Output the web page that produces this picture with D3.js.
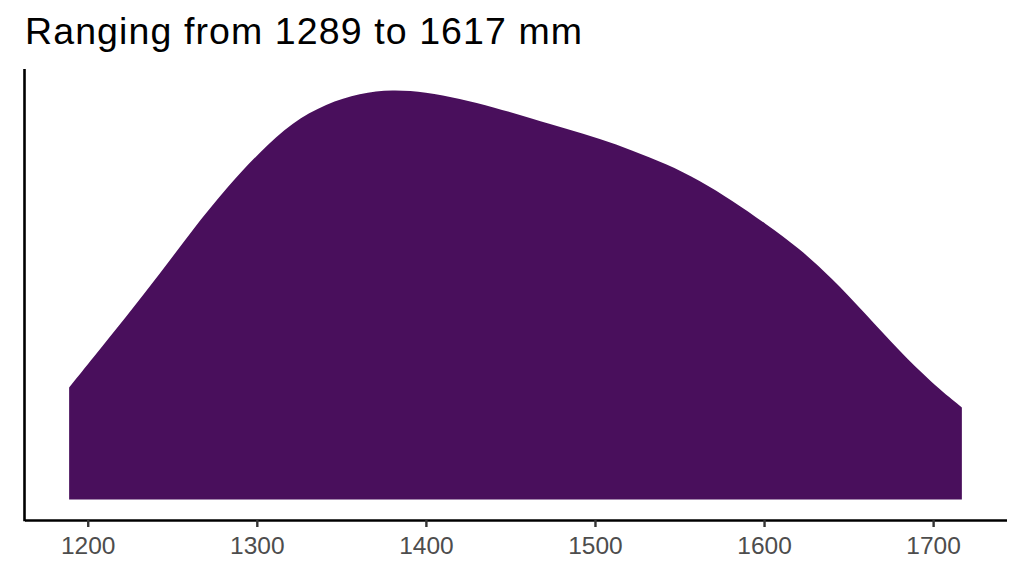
<!DOCTYPE html>
<html>
<head>
<meta charset="utf-8">
<script src="https://cdn.jsdelivr.net/npm/d3@7"></script>
<style>
  body { margin: 0; background: #fff; }
  svg { display: block; font-family: "Liberation Sans", Arial, sans-serif; }
</style>
</head>
<body>
<svg id="chart"></svg>
<script>
// rainfall (mm) and density estimate (x 1e-3)
const rainfall = [1189, 1203, 1223, 1243, 1262, 1282, 1302, 1321, 1341, 1361, 1380,
  1400, 1420, 1440, 1463, 1483, 1503, 1522, 1542, 1562, 1581, 1601, 1621,
  1640, 1660, 1680, 1699, 1717];
const density = [0.629, 0.795, 1.030, 1.272, 1.515, 1.750, 1.955, 2.119, 2.223, 2.282, 2.303,
  2.288, 2.251, 2.204, 2.139, 2.082, 2.026, 1.961, 1.886, 1.792, 1.680, 1.549, 1.410,
  1.244, 1.043, 0.834, 0.657, 0.517];
const xTicks = [1200, 1300, 1400, 1500, 1600, 1700];
const title = "Ranging from 1289 to 1617 mm";

const width = 1024, height = 576;
const margin = { left: 24.5, right: 1006.5, top: 69, bottom: 520 };

const data = rainfall.map((r, i) => ({ x: r, y: density[i] }));

const svg = d3.select('#chart')
  .attr('width', width)
  .attr('height', height);

// ggplot-style 5% expansion on both axes
const [xmin, xmax] = d3.extent(rainfall);
const xpad = (xmax - xmin) * 0.05;
const xScale = d3.scaleLinear()
  .domain([xmin - xpad, xmax + xpad])
  .range([margin.left, margin.right]);

const ymax = d3.max(density);
const yScale = d3.scaleLinear()
  .domain([-ymax * 0.05, ymax * 1.05])
  .range([margin.bottom, margin.top]);

const area = d3.area()
  .x(d => xScale(d.x))
  .y0(yScale(0))
  .y1(d => yScale(d.y))
  .curve(d3.curveBasis);

svg.append('path')
  .datum(data)
  .attr('d', area)
  .attr('fill', '#490f5c');

// x axis
const xAxis = svg.append('g')
  .attr('transform', `translate(0, ${margin.bottom})`)
  .call(d3.axisBottom(xScale)
    .tickValues(xTicks)
    .tickFormat(d3.format('d'))
    .tickSize(7).tickSizeOuter(0).tickPadding(10));

xAxis.select('.domain')
  .attr('stroke', '#000')
  .attr('stroke-width', 2.6);
xAxis.selectAll('.tick line')
  .attr('stroke', '#333')
  .attr('stroke-width', 2.4);
xAxis.selectAll('.tick text')
  .attr('fill', '#4d4d4d')
  .attr('font-size', 24.5)
  .attr('font-family', '"Liberation Sans", Arial, sans-serif');

// y axis line only, no ticks
svg.append('line')
  .attr('x1', margin.left).attr('x2', margin.left)
  .attr('y1', margin.top).attr('y2', margin.bottom + 1.3)
  .attr('stroke', '#000')
  .attr('stroke-width', 2.6);

svg.append('text')
  .attr('x', 25)
  .attr('y', 44.3)
  .attr('font-size', 37.5)
  .attr('letter-spacing', 1.1)
  .attr('fill', '#000')
  .text(title);
</script>
</body>
</html>
